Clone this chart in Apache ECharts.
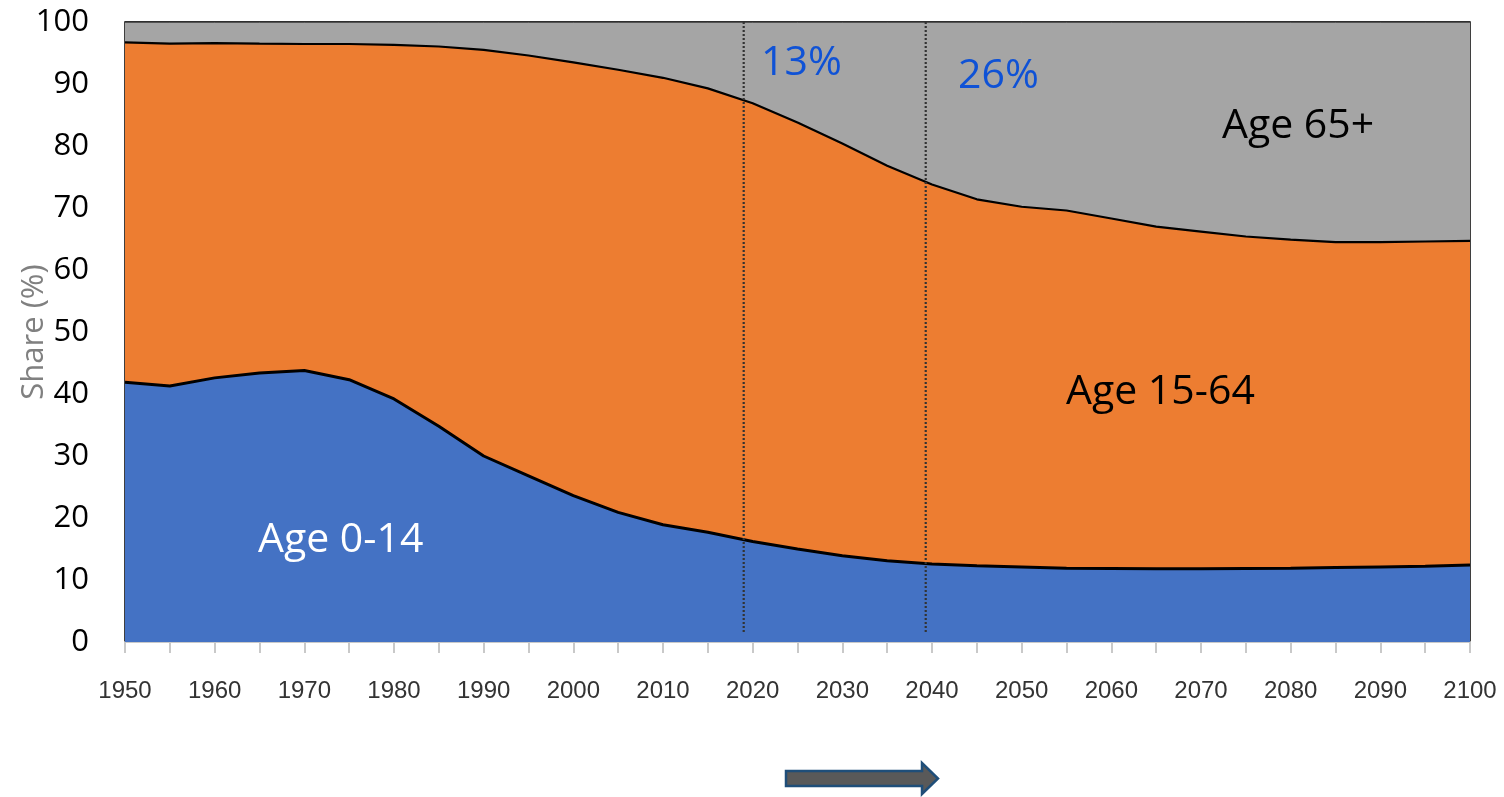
<!DOCTYPE html>
<html>
<head>
<meta charset="utf-8">
<script src="https://cdn.jsdelivr.net/npm/echarts@6/dist/echarts.min.js"></script>
<style>
  html, body { margin: 0; padding: 0; background: #fff; }
  #chart { width: 1504px; height: 797px; }
</style>
</head>
<body>
<div id="chart"></div>
<script>
// Population share by broad age group, 1950–2100 (5-year steps)
const years = [1950, 1955, 1960, 1965, 1970, 1975, 1980, 1985, 1990, 1995,
               2000, 2005, 2010, 2015, 2020, 2025, 2030, 2035, 2040, 2045,
               2050, 2055, 2060, 2065, 2070, 2075, 2080, 2085, 2090, 2095, 2100];

const age0to14 = [41.9, 41.3, 42.6, 43.4, 43.8, 42.3, 39.2, 34.8, 30.0, 26.8,
                  23.6, 20.9, 18.9, 17.7, 16.2, 15.0, 13.9, 13.1, 12.6, 12.3,
                  12.1, 11.9, 11.85, 11.8, 11.8, 11.85, 11.9, 12.0, 12.1, 12.2, 12.4];

const age15to64 = [54.8, 55.2, 54.0, 53.1, 52.65, 54.15, 57.1, 61.25, 65.5, 67.8,
                   69.9, 71.4, 72.1, 71.6, 70.7, 68.8, 66.5, 63.7, 61.2, 59.1,
                   58.1, 57.7, 56.45, 55.2, 54.4, 53.55, 53.0, 52.5, 52.4, 52.4, 52.3];

const age65plus = [3.3, 3.5, 3.4, 3.5, 3.55, 3.55, 3.7, 3.95, 4.5, 5.4,
                   6.5, 7.7, 9.0, 10.7, 13.1, 16.2, 19.6, 23.2, 26.2, 28.6,
                   29.8, 30.4, 31.7, 33.0, 33.8, 34.6, 35.1, 35.5, 35.5, 35.4, 35.3];

// Years marked by dotted guides, with the 65+ share reached there
const markYears = [2019, 2039.3];
const markLabels = ['13%', '26%'];
const guideSpan = [1.6, 100.3];

const yTicks = [0, 10, 20, 30, 40, 50, 60, 70, 80, 90, 100];

const chart = echarts.init(document.getElementById('chart'), null, { renderer: 'canvas' });

const guideSeries = markYears.map((y, i) => ({
  name: 'guide ' + markLabels[i],
  type: 'line',
  xAxisIndex: 1,
  data: guideSpan.map(v => [y, v]),
  symbol: 'none',
  silent: true,
  lineStyle: { color: '#333333', width: 2.2, type: [2, 2] },
  z: 5
}));

const option = {
  animation: false,
  backgroundColor: '#ffffff',
  grid: {
    left: 125, right: 34, top: 22, bottom: 155,
    outerBoundsMode: 'none',
    containLabel: false,
    show: true, borderColor: '#000000', borderWidth: 1.5,
    backgroundColor: 'transparent'
  },
  xAxis: [
    {
      type: 'category',
      data: years.map(String),
      boundaryGap: false,
      axisLine: { show: true, lineStyle: { color: '#c9c9c9', width: 2 } },
      axisTick: { show: true, interval: 0, length: 11, lineStyle: { color: '#c9c9c9', width: 2 } },
      splitLine: { show: false },
      axisLabel: {
        interval: 1,
        margin: 37,
        fontFamily: 'Liberation Sans, Arial, sans-serif',
        fontSize: 24,
        color: '#333333'
      }
    },
    {
      // continuous year scale used only to place the dotted guides
      type: 'value',
      min: years[0], max: years[years.length - 1],
      show: false,
      splitLine: { show: false }
    }
  ],
  yAxis: {
    type: 'value',
    min: yTicks[0], max: yTicks[yTicks.length - 1], interval: 10,
    name: 'Share (%)',
    nameLocation: 'middle',
    nameGap: 75,
    nameMoveOverlap: false,
    nameRotate: 90,
    nameTextStyle: { color: '#808080', fontSize: 31, fontFamily: 'Open Sans, sans-serif' },
    axisLine: { show: false },
    axisTick: { show: false },
    splitLine: { show: false },
    axisLabel: {
      margin: 36,
      fontFamily: 'Open Sans, sans-serif',
      fontSize: 31,
      color: '#000000'
    }
  },
  series: [
    {
      name: 'Age 0-14',
      type: 'line',
      stack: 'share',
      data: age0to14,
      symbol: 'none',
      lineStyle: { color: '#000000', width: 3 },
      areaStyle: { color: '#4472C4', opacity: 1 },
      z: 2
    },
    {
      name: 'Age 15-64',
      type: 'line',
      stack: 'share',
      data: age15to64,
      symbol: 'none',
      lineStyle: { color: '#000000', width: 2.2 },
      areaStyle: { color: '#ED7D31', opacity: 1 },
      z: 2
    },
    {
      name: 'Age 65+',
      type: 'line',
      stack: 'share',
      data: age65plus,
      symbol: 'none',
      lineStyle: { color: '#000000', width: 1 },
      areaStyle: { color: '#A5A5A5', opacity: 1 },
      z: 2
    }
  ].concat(guideSeries),
  graphic: [
    { type: 'text', left: 258, top: 520, z: 10,
      style: { text: 'Age 0-14', fill: '#ffffff', font: '41px "Open Sans", sans-serif' } },
    { type: 'text', left: 1066, top: 372, z: 10,
      style: { text: 'Age 15-64', fill: '#000000', font: '41px "Open Sans", sans-serif' } },
    { type: 'text', left: 1222, top: 106, z: 10,
      style: { text: 'Age 65+', fill: '#000000', font: '41px "Open Sans", sans-serif' } },
    { type: 'text', left: 761, top: 43, z: 10,
      style: { text: markLabels[0], fill: '#0F52D6', font: '41px "Open Sans", sans-serif' } },
    { type: 'text', left: 958, top: 56, z: 10,
      style: { text: markLabels[1], fill: '#0F52D6', font: '41px "Open Sans", sans-serif' } },
    {
      type: 'polygon', z: 10,
      shape: { points: [[786, 771], [922, 771], [922, 763], [938, 778.5], [922, 794], [922, 786], [786, 786]] },
      style: { fill: '#595959', stroke: '#1F4E79', lineWidth: 2.5 }
    }
  ]
};

chart.setOption(option);
</script>
</body>
</html>
